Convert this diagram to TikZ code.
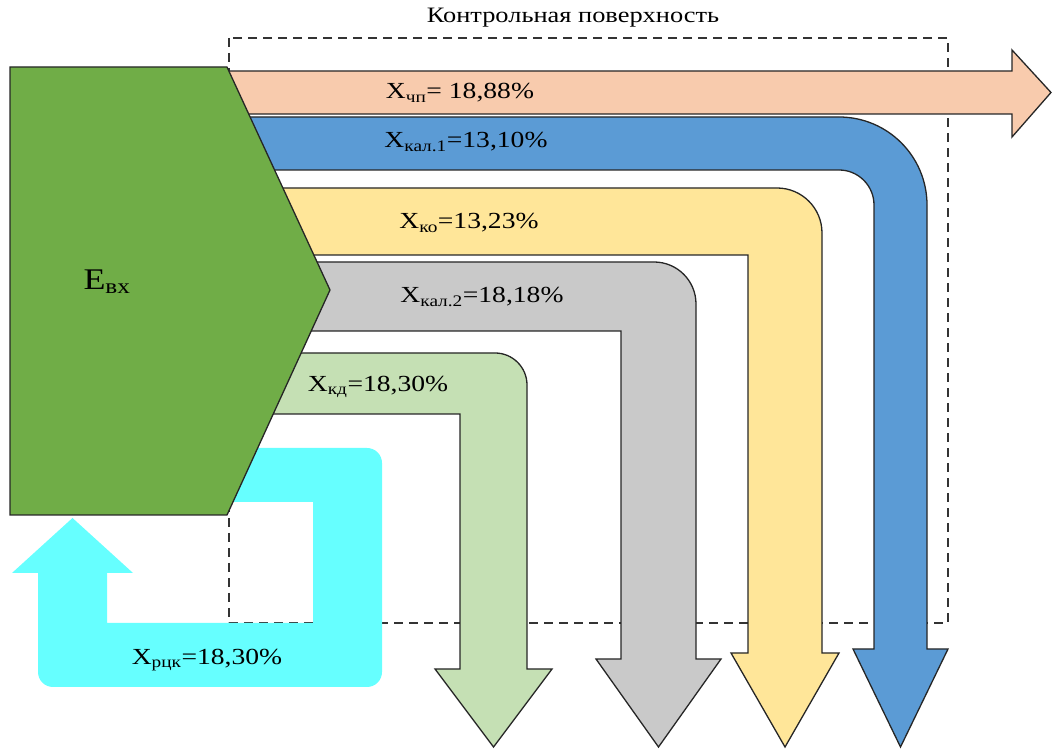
\documentclass[tikz,border=0pt]{standalone}
\usepackage{fontspec}
\setmainfont{Liberation Serif}[FakeStretch=1.2]
\definecolor{inGreen}{HTML}{70AD47}
\definecolor{chpPeach}{HTML}{F8CBAD}
\definecolor{kalBlue}{HTML}{5B9BD5}
\definecolor{koYellow}{HTML}{FFE699}
\definecolor{kalGray}{HTML}{C9C9C9}
\definecolor{kdGreen}{HTML}{C5E0B4}
\definecolor{rckCyan}{HTML}{66FFFF}

\begin{document}
\begin{tikzpicture}[x=1pt,y=1pt,
  ribbon/.style={draw=black!85,line width=1.3pt,line join=miter},
  flowlabel/.style={font=\fontsize{23}{27}\selectfont,inner sep=0pt},
  ctrlsurf/.style={draw=black!80,dash pattern=on 9pt off 6pt,line width=1.8pt}]
\useasboundingbox (0,0) rectangle (1054,749);
% control surface
\draw[ctrlsurf] (229,711) rectangle (948,126);
\node[flowlabel,font=\fontsize{22}{26}\selectfont] (ctrl) at (573,731) {Контрольная поверхность};
% outgoing flows
\draw[ribbon,fill=kdGreen] (200,396) -- (495,396) arc[start angle=90,end angle=0,radius=32pt]
  -- (527,80) -- (552,80) -- (493.5,2) -- (435,80) -- (460,80) -- (460,335) -- (200,335) -- cycle;
\draw[ribbon,fill=kalGray] (200,487) -- (654,487) arc[start angle=90,end angle=0,radius=42pt]
  -- (696,90) -- (721,90) -- (658.5,2) -- (596,90) -- (621,90) -- (621,418) -- (200,418) -- cycle;
\draw[ribbon,fill=koYellow] (200,561) -- (777,561) arc[start angle=90,end angle=0,radius=45pt]
  -- (822,96) -- (839,96) -- (785,2) -- (731,96) -- (748,96) -- (748,494) -- (200,494) -- cycle;
\draw[ribbon,fill=kalBlue] (200,632) -- (839,632) arc[start angle=90,end angle=0,radius=88pt]
  -- (927,100) -- (948,100) -- (900.5,2) -- (853,100) -- (874,100) -- (874,544)
  arc[start angle=0,end angle=90,radius=35pt] -- (200,579) -- cycle;
\draw[ribbon,fill=chpPeach] (200,678) -- (1012,678) -- (1012,699) -- (1051,656.5)
  -- (1012,612) -- (1012,635) -- (200,635) -- cycle;
% recycle loop
\fill[rckCyan] (200,301) -- (367,301) arc[start angle=90,end angle=0,radius=15pt]
  -- (382,77) arc[start angle=0,end angle=-90,radius=15pt] -- (53,62)
  arc[start angle=270,end angle=180,radius=15pt] -- (38,176) -- (12,176) -- (72.5,231)
  -- (133,176) -- (107,176) -- (107,126) -- (313,126) -- (313,247) -- (200,247) -- cycle;
% input
\draw[ribbon,fill=inGreen] (10,682) -- (227,682) -- (330,459) -- (227,234) -- (10,234) -- cycle;
\node[font=\fontsize{30}{34}\selectfont] (ein) at (107,467) {E\textsubscript{вх}};
% labels
\node[flowlabel] (xchp) at (460,656) {X\textsubscript{чп}= 18,88\%};
\node[flowlabel] (xkal1) at (466,607) {X\textsubscript{кал.1}=13,10\%};
\node[flowlabel] (xko) at (469,526) {X\textsubscript{ко}=13,23\%};
\node[flowlabel] (xkal2) at (482,452) {X\textsubscript{кал.2}=18,18\%};
\node[flowlabel] (xkd) at (378,362) {X\textsubscript{кд}=18,30\%};
\node[flowlabel] (xrck) at (207,89) {X\textsubscript{рцк}=18,30\%};
\end{tikzpicture}
\end{document}
